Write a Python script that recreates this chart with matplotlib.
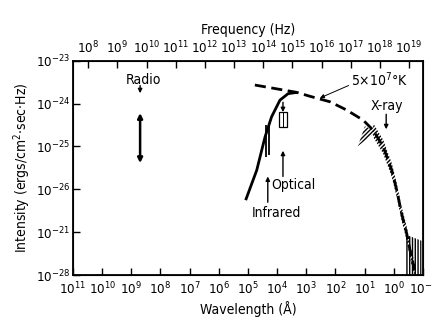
import matplotlib
matplotlib.use('Agg')
import matplotlib.pyplot as plt
from matplotlib.patches import Rectangle
import numpy as np

plt.rcParams['font.family'] = ['DejaVu Sans']
plt.rcParams['font.stretch'] = 'condensed'
plt.rcParams['mathtext.fontset'] = 'custom'
plt.rcParams['mathtext.rm'] = 'DejaVu Sans:stretch=condensed'
plt.rcParams['mathtext.it'] = 'DejaVu Sans:stretch=condensed'
plt.rcParams['mathtext.bf'] = 'DejaVu Sans:stretch=condensed'
plt.rcParams['hatch.linewidth'] = 1.0

# wavelength (Angstrom) and intensity
ir_opt_lam = [1.2e5, 5.0e4, 2.6e4, 1.55e4, 8.0e3, 4.2e3, 2.1e3]
ir_opt_I = [5.6e-27, 2.8e-26, 1.66e-25, 4.9e-25, 1.2e-24, 1.7e-24, 1.82e-24]

thermal_lam = [5.8e4, 2.1e3, 7.6e2, 1.55e2, 4.2e1, 1.12e1, 5.1, 2.3, 1.17, 0.79, 0.54, 0.36, 0.25, 0.19]
thermal_I = [2.7e-24, 1.82e-24, 1.48e-24, 1.1e-24, 7.1e-25, 4.1e-25, 2.4e-25, 9.8e-26,
             2.8e-26, 9.5e-27, 2.75e-27, 9.3e-28, 2.7e-28, 1.3e-28]

# X-ray measurement band (hatched) along the curve
xray_lam = [5.1, 2.3, 1.17, 0.79, 0.54, 0.36, 0.25, 0.19]
xray_I = [2.4e-25, 9.8e-26, 2.8e-26, 9.5e-27, 2.75e-27, 9.3e-28, 2.7e-28, 1.3e-28]

# soft X-ray wedge
wedge_lam = [17.0, 9.8, 3.8]
wedge_I = [1.02e-25, 2.95e-25, 2.24e-25]

# hard X-ray vertical band
hard_lam = [0.40, 0.11]
hard_top = [8.9e-28, 6.3e-28]

# infrared bars
ir_bar_lam = [2.35e4, 1.95e4]
ir_bar_lo = [5.6e-26, 6.3e-26]
ir_bar_hi = [3.2e-25, 3.2e-25]

# optical box
opt_box_lam = (4.6e3, 8.7e3)
opt_box_I = (2.8e-25, 6.3e-25)

# radio range
radio_lam = 5.0e8
radio_I = (4.1e-26, 6.0e-25)

c_ang = 3e18  # speed of light, Angstrom/s
lam_ticks = [10.0 ** k for k in range(11, -2, -1)]
lam_labels = ['$10^{%d}$' % k for k in range(11, -2, -1)]
freq_ticks = [10.0 ** k for k in range(8, 20)]
freq_labels = ['$10^{%d}$' % k for k in range(8, 20)]
I_ticks = [1e-23, 1e-24, 1e-25, 1e-26, 1e-27, 1e-28]
I_labels = ['$10^{-23}$', '$10^{-24}$', '$10^{-25}$', '$10^{-26}$', '$10^{-21}$', '$10^{-28}$']

fig = plt.figure(figsize=(4.32, 3.26), dpi=100)
ax = fig.add_axes([0.169, 0.156, 0.81, 0.658])
ax.set_xscale('log')
ax.set_yscale('log')
ax.set_xlim(1e11, 1e-1)
ax.set_ylim(1e-28, 1e-23)

ax.plot(ir_opt_lam, ir_opt_I, color='black', lw=2.0, solid_capstyle='butt')
ax.plot(thermal_lam, thermal_I, color='black', lw=2.0, dashes=(4, 2))
ax.fill_between(xray_lam, np.array(xray_I) / 1.45, np.array(xray_I) * 1.45,
                facecolor='none', edgecolor='black', hatch='////////', lw=0)
ax.fill(wedge_lam, wedge_I, facecolor='none', edgecolor='black', hatch='////////', lw=0)
ax.fill_between(hard_lam, [1e-28, 1e-28], hard_top,
                facecolor='none', edgecolor='black', hatch='||||||', lw=0)

ax.vlines(ir_bar_lam, ir_bar_lo, ir_bar_hi, color='black', lw=1.3)
ax.add_patch(Rectangle((opt_box_lam[0], opt_box_I[0]), opt_box_lam[1] - opt_box_lam[0],
                       opt_box_I[1] - opt_box_I[0], fill=False, lw=0.9, ec='black'))
ax.vlines([np.sqrt(opt_box_lam[0] * opt_box_lam[1])], opt_box_I[0], opt_box_I[1],
          color='black', lw=0.7)

arr = dict(arrowstyle='-|>', color='black', lw=1.0, mutation_scale=6, shrinkA=0, shrinkB=0)
ax.annotate('', xy=(radio_lam, radio_I[0]), xytext=(radio_lam, radio_I[1]),
            arrowprops=dict(arrowstyle='<|-|>', color='black', lw=1.8, mutation_scale=7,
                            shrinkA=0, shrinkB=0))
ax.text(10 ** 8.57, 10 ** -23.45, 'Radio', ha='center', va='center', fontsize=10)
ax.annotate('', xy=(radio_lam, 10 ** -23.76), xytext=(radio_lam, 10 ** -23.58), arrowprops=arr)

ax.text(10 ** 4.21, 10 ** -25.9, 'Optical', ha='left', va='center', fontsize=10)
ax.annotate('', xy=(10 ** 3.80, 10 ** -25.1), xytext=(10 ** 3.80, 10 ** -25.7), arrowprops=arr)
ax.annotate('', xy=(10 ** 3.80, 10 ** -24.2), xytext=(10 ** 3.80, 10 ** -23.97), arrowprops=arr)
ax.text(10 ** 4.01, 10 ** -26.55, 'Infrared', ha='center', va='center', fontsize=10)
ax.annotate('', xy=(10 ** 4.32, 10 ** -25.7), xytext=(10 ** 4.32, 10 ** -26.3), arrowprops=arr)

ax.text(10 ** 0.24, 10 ** -24.06, 'X-ray', ha='center', va='center', fontsize=10)
ax.annotate('', xy=(10 ** 0.26, 10 ** -24.6), xytext=(10 ** 0.26, 10 ** -24.25), arrowprops=arr)

ax.text(10 ** 0.48, 10 ** -23.45, r'5$\times$10$^{7}$°K', ha='center', va='center', fontsize=10)
ax.annotate('', xy=(10 ** 2.53, 10 ** -23.87), xytext=(10 ** 1.55, 10 ** -23.58),
            arrowprops=dict(arrowstyle='-|>', color='black', lw=0.7, mutation_scale=6,
                            shrinkA=0, shrinkB=0))

ax.set_xticks(lam_ticks)
ax.set_xticklabels(lam_labels)
ax.set_yticks(I_ticks)
ax.set_yticklabels(I_labels)
ax.minorticks_off()
ax.tick_params(direction='in', length=5, width=1.0, labelsize=9.5, pad=4)
ax.tick_params(axis='y', pad=2)
ax.set_xlabel('Wavelength (Å)', fontsize=10, labelpad=3)
ax.set_ylabel('Intensity (ergs/cm$^{2}$·sec·Hz)', fontsize=10, labelpad=2)
for s in ax.spines.values():
    s.set_linewidth(1.3)

ax2 = ax.twiny()
ax2.set_xscale('log')
ax2.set_xlim(c_ang / 1e11, c_ang / 1e-1)
ax2.set_xticks(freq_ticks)
ax2.set_xticklabels(freq_labels)
ax2.minorticks_off()
ax2.tick_params(direction='in', length=5, width=1.0, labelsize=9.5, pad=3)
ax2.set_xlabel('Frequency (Hz)', fontsize=10, labelpad=4)

fig.savefig('out.png', dpi=100)
